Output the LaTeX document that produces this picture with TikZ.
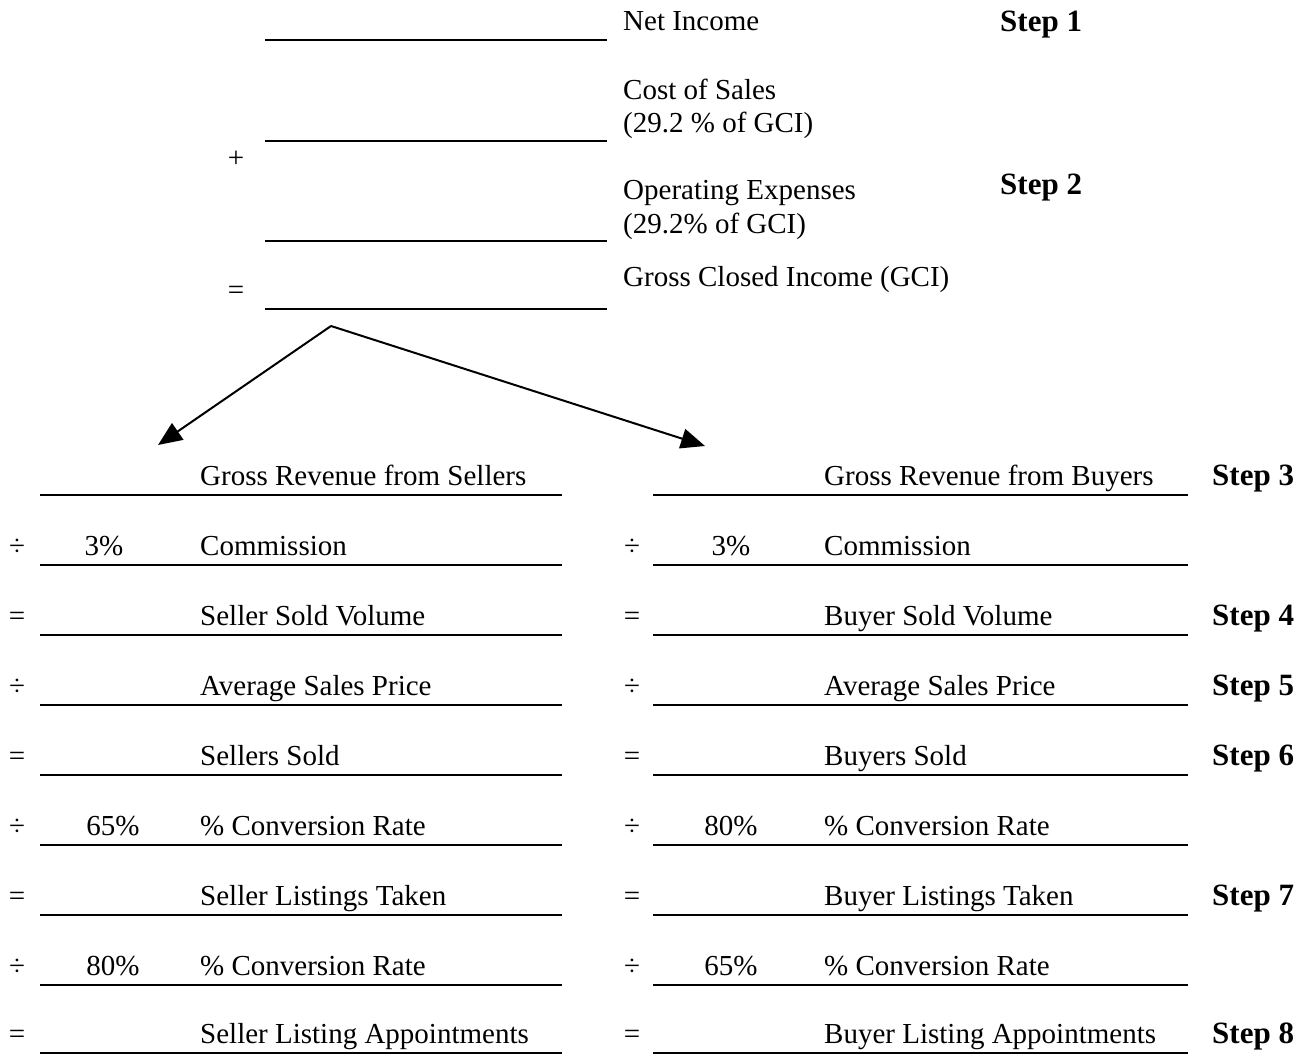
\documentclass[tikz,border=0pt]{standalone}
\usepackage{fontspec}
\setmainfont{Liberation Serif}
\usetikzlibrary{arrows.meta}
\tikzset{
  lbl/.style={anchor=base west, inner sep=0pt, font=\fontsize{29}{34}\selectfont},
  op/.style={anchor=base, inner sep=0pt, font=\fontsize{29}{34}\selectfont},
  stp/.style={anchor=base west, inner sep=0pt, font=\fontsize{31}{36}\selectfont\bfseries},
  rule/.style={line width=2pt},
  flow/.style={line width=2pt, -{Triangle[length=24pt,width=20pt]}},
}
% #1 index, #2 baseline y, #3 operator, #4 left value, #5 left text, #6 right value, #7 right text, #8 step, #9 left value x
\newcommand\planrow[9]{%
  \node[op] (ls#1) at (17,#2) {#3};
  \node[op] (lv#1) at (#9,#2) {#4};
  \node[lbl] (lt#1) at (200,#2) {#5};
  \draw[rule] (40,#2+10) -- (562,#2+10);
  \node[op] (rs#1) at (632,#2) {#3};
  \node[op] (rv#1) at (731,#2) {#6};
  \node[lbl] (rt#1) at (824,#2) {#7};
  \draw[rule] (653,#2+10) -- (1188,#2+10);
  \node[stp] (st#1) at (1212,#2) {#8};
}
\begin{document}
\begin{tikzpicture}[x=1pt,y=-1pt]
\useasboundingbox (0,0) rectangle (1309,1055);
% top block
\node[lbl] (net) at (623,30) {Net Income};
\draw[rule] (265,40) -- (607,40);
\node[stp] (step1) at (1000,31) {Step 1};
\node[lbl] (cos1) at (623,99) {Cost of Sales};
\node[lbl] (cos2) at (623,132) {(29.2 \% of GCI)};
\draw[rule] (265,141) -- (607,141);
\node[op] (plus) at (236,167) {+};
\node[lbl] (opx1) at (623,199) {Operating Expenses};
\node[lbl] (opx2) at (623,233) {(29.2\% of GCI)};
\node[stp] (step2) at (1000,194) {Step 2};
\draw[rule] (265,241) -- (607,241);
\node[lbl] (gci) at (623,286) {Gross Closed Income (GCI)};
\node[op] (eq) at (236,299) {=};
\draw[rule] (265,309) -- (607,309);
% arrows
\coordinate (split) at (331,326);
\coordinate (sellers) at (158,445);
\coordinate (buyers) at (705,446);
\draw[flow] (split) -- (sellers);
\draw[flow] (split) -- (buyers);
% rows
\planrow{0}{485}{}{}{Gross Revenue from Sellers}{}{Gross Revenue from Buyers}{Step 3}{109}
\planrow{1}{555}{÷}{3\%}{Commission}{3\%}{Commission}{}{104}
\planrow{2}{625}{=}{}{Seller Sold Volume}{}{Buyer Sold Volume}{Step 4}{109}
\planrow{3}{695}{÷}{}{Average Sales Price}{}{Average Sales Price}{Step 5}{109}
\planrow{4}{765}{=}{}{Sellers Sold}{}{Buyers Sold}{Step 6}{109}
\planrow{5}{835}{÷}{65\%}{\% Conversion Rate}{80\%}{\% Conversion Rate}{}{113}
\planrow{6}{905}{=}{}{Seller Listings Taken}{}{Buyer Listings Taken}{Step 7}{109}
\planrow{7}{975}{÷}{80\%}{\% Conversion Rate}{65\%}{\% Conversion Rate}{}{113}
\planrow{8}{1043}{=}{}{Seller Listing Appointments}{}{Buyer Listing Appointments}{Step 8}{109}
\end{tikzpicture}
\end{document}
